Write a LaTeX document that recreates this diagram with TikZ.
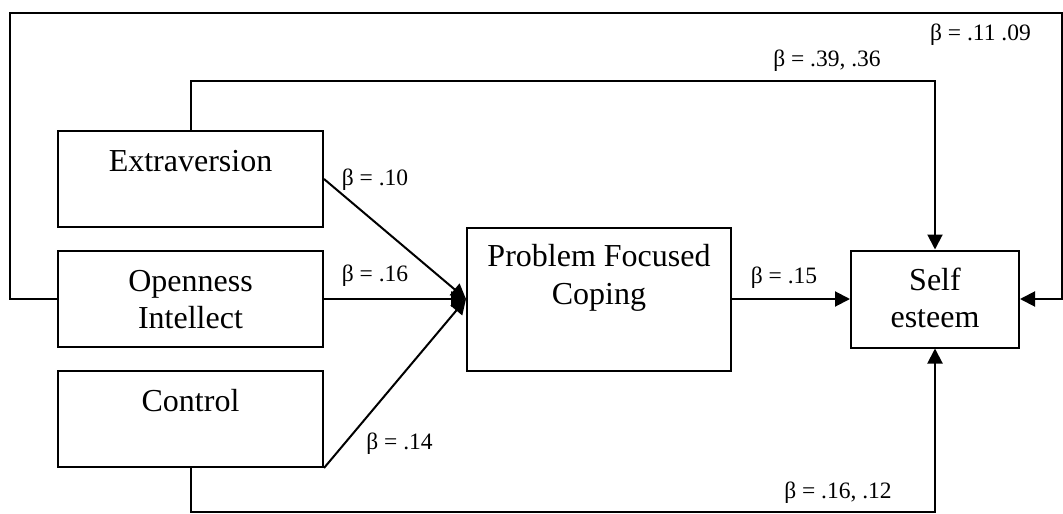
\documentclass[tikz,border=0pt]{standalone}
\usepackage{fontspec}
\setmainfont{Liberation Serif}
\usetikzlibrary{arrows.meta}
\begin{document}
\begin{tikzpicture}[x=1pt,y=-1pt,
  box/.style={draw, line width=2pt, minimum width=#1, inner sep=0pt},
  boxtext/.style={anchor=base, inner sep=0pt, font=\fontsize{32}{38}\selectfont},
  lab/.style={anchor=base, inner sep=0pt, font=\fontsize{23.5}{28}\selectfont},
  conn/.style={line width=2pt},
  arr/.style={line width=2pt, -{Triangle[length=15pt,width=15pt]}}]
\useasboundingbox (0,0) rectangle (1063,514);
% boxes
\node[box=265pt, minimum height=96pt] (ext) at (190.5,179) {};
\node[box=265pt, minimum height=96pt] (open) at (190.5,299) {};
\node[box=265pt, minimum height=96pt] (ctrl) at (190.5,419) {};
\node[box=264pt, minimum height=143pt] (pfc) at (599,299) {};
\node[box=168pt, minimum height=97pt] (self) at (935,299) {};
% box texts
\node[boxtext] (tExt) at (190.5,171.5) {Extraversion};
\node[boxtext] (tOpen1) at (190.5,291.5) {Openness};
\node[boxtext] (tOpen2) at (190.5,328) {Intellect};
\node[boxtext] (tCtrl) at (190.5,411) {Control};
\node[boxtext] (tPfc1) at (599,266.5) {Problem Focused};
\node[boxtext] (tPfc2) at (599,304) {Coping};
\node[boxtext] (tSelf1) at (935,290.5) {Self};
\node[boxtext] (tSelf2) at (935,327) {esteem};
% connectors
\coordinate (oL1) at (10,299);
\coordinate (oL2) at (10,13);
\coordinate (oR) at (1062,13);
\draw[arr] (open.west) -- (oL1) -- (oL2) -- (oR) |- (self.east);
\draw[arr] (ext.north) -- ++(0,-49) -| (self.north);
\draw[arr] (ctrl.south) -- ++(0,44) -| (self.south);
\draw[arr] (ext.east) -- (pfc.west);
\draw[arr] (open.east) -- (pfc.west);
\draw[arr] (ctrl.south east) -- (pfc.west);
\draw[arr] (pfc.east) -- (self.west);
% labels
\node[lab] (l1) at (375,185) {β = .10};
\node[lab] (l2) at (375,281) {β = .16};
\node[lab] (l3) at (399.5,449) {β = .14};
\node[lab] (l4) at (784,283) {β = .15};
\node[lab] (l5) at (827,66) {β = .39, .36};
\node[lab] (l6) at (838,498) {β = .16, .12};
\node[lab] (l7) at (980.5,40.5) {β = .11 .09};
\end{tikzpicture}
\end{document}
